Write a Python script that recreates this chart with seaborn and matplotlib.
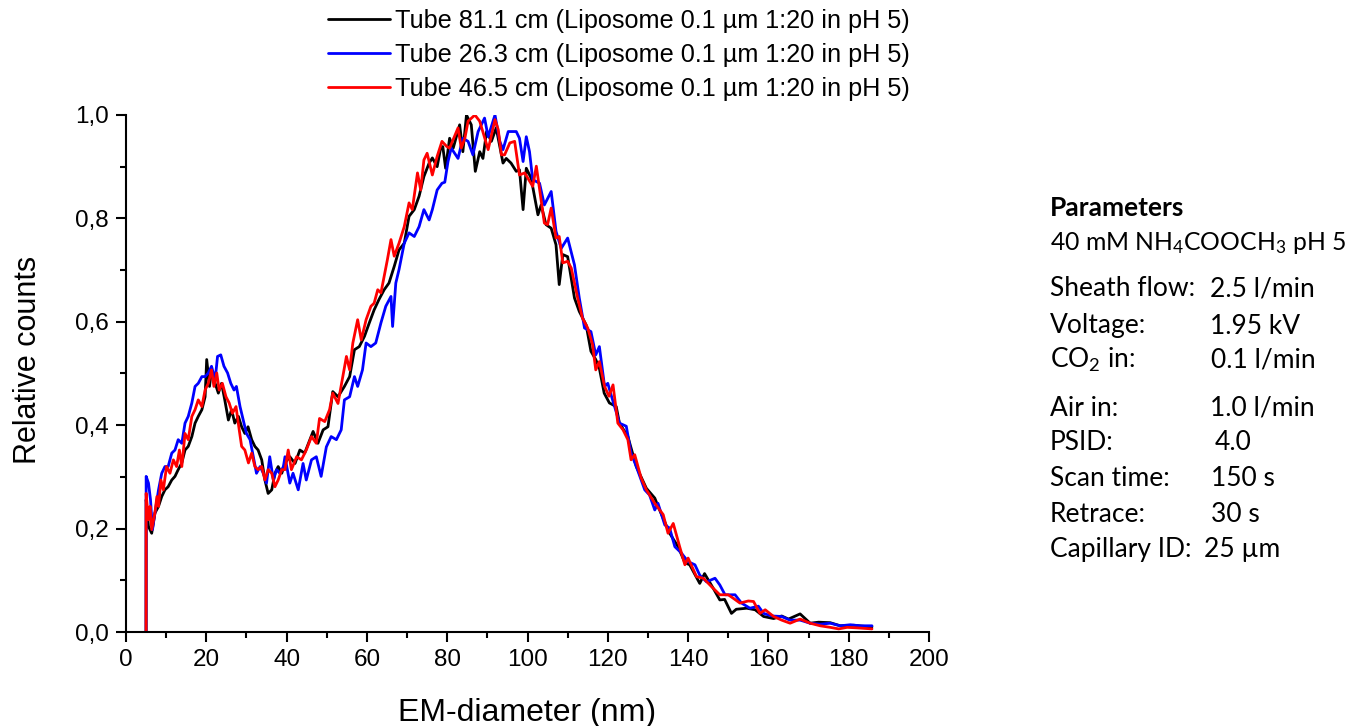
import matplotlib
matplotlib.use("Agg")
import matplotlib.pyplot as plt
from matplotlib.ticker import FixedLocator, FixedFormatter, MultipleLocator
import pandas as pd
import seaborn as sns

# ---- data -------------------------------------------------------------
series_names = [
    "Tube 81.1 cm (Liposome 0.1 µm 1:20 in pH 5)",
    "Tube 26.3 cm (Liposome 0.1 µm 1:20 in pH 5)",
    "Tube 46.5 cm (Liposome 0.1 µm 1:20 in pH 5)",
]
series_colors = ["#000000", "#0000ff", "#ff0000"]

# Tube 81.1 cm
d_81 = [5.0, 5.02, 5.6, 6.4, 7.2, 8.1, 8.9, 9.7, 10.5, 11.4, 12.2, 13.0, 13.9, 14.7,
        15.5, 16.4, 17.2, 18.0, 18.9, 19.7, 20.1, 20.8, 21.3, 22.2, 23.0, 23.8, 24.6,
        25.5, 26.3, 27.1, 28.0, 28.8, 29.6, 30.4, 31.3, 32.1, 32.9, 33.8, 34.6, 35.4,
        36.3, 37.1, 37.9, 38.8, 39.6, 40.8, 42.1, 43.3, 44.5, 46.6, 47.8, 49.1, 50.3,
        51.5, 52.8, 54.4, 55.7, 56.9, 58.1, 59.4, 60.6, 61.8, 63.0, 64.3, 65.5, 66.8,
        68.0, 69.3, 70.5, 71.8, 73.0, 74.2, 75.5, 76.3, 77.5, 78.3, 78.9, 79.6, 80.6,
        81.5, 83.1, 83.9, 84.8, 86.0, 87.0, 88.1, 88.9, 89.8, 91.0, 92.2, 93.9, 94.7,
        95.9, 97.2, 98.0, 98.9, 99.7, 100.9, 102.6, 103.4, 104.6, 105.9, 107.1, 107.9,
        108.8, 110.0, 111.7, 112.9, 114.6, 115.8, 117.0, 117.9, 119.1, 120.4, 122.1,
        122.9, 125.0, 127.1, 129.6, 131.7, 132.9, 135.4, 137.5, 139.2, 140.4, 142.9,
        144.1, 146.3, 147.9, 149.1, 150.8, 152.0, 154.6, 156.7, 158.8, 161.3, 163.3,
        165.0, 167.9, 170.4, 172.5, 175.4, 177.9, 181.3, 183.8, 185.8]
c_81 = [0.0, 0.256, 0.204, 0.191, 0.230, 0.243, 0.262, 0.275, 0.281, 0.294, 0.301, 0.314,
        0.327, 0.352, 0.359, 0.378, 0.404, 0.417, 0.430, 0.455, 0.527, 0.475, 0.507,
        0.481, 0.462, 0.481, 0.449, 0.410, 0.430, 0.404, 0.417, 0.397, 0.384, 0.397,
        0.372, 0.359, 0.352, 0.333, 0.294, 0.268, 0.275, 0.307, 0.320, 0.307, 0.327,
        0.339, 0.326, 0.352, 0.346, 0.388, 0.365, 0.391, 0.397, 0.465, 0.455, 0.475,
        0.494, 0.546, 0.552, 0.572, 0.598, 0.623, 0.643, 0.662, 0.675, 0.707, 0.739,
        0.752, 0.804, 0.817, 0.843, 0.881, 0.907, 0.917, 0.900, 0.933, 0.939, 0.897,
        0.955, 0.936, 0.981, 0.929, 1.000, 0.981, 0.891, 0.929, 0.916, 0.968, 0.949,
        0.975, 0.907, 0.916, 0.907, 0.891, 0.894, 0.817, 0.897, 0.878, 0.807, 0.826,
        0.788, 0.781, 0.749, 0.672, 0.730, 0.726, 0.646, 0.620, 0.594, 0.543, 0.527,
        0.510, 0.462, 0.443, 0.436, 0.404, 0.378, 0.320, 0.278, 0.259, 0.236, 0.191,
        0.165, 0.134, 0.130, 0.094, 0.113, 0.084, 0.062, 0.063, 0.036, 0.044, 0.046,
        0.043, 0.030, 0.026, 0.031, 0.025, 0.035, 0.017, 0.019, 0.018, 0.012, 0.013,
        0.011, 0.010]

# Tube 26.3 cm
d_26 = [5.0, 5.02, 5.6, 6.1, 6.6, 7.2, 8.1, 8.9, 9.7, 10.5, 11.4, 12.2, 13.0, 13.9,
        14.7, 15.5, 16.4, 17.2, 18.0, 18.9, 19.7, 20.5, 21.3, 22.2, 22.8, 23.6, 24.4,
        25.3, 26.1, 26.9, 27.5, 28.4, 29.2, 30.0, 30.9, 31.7, 32.5, 33.4, 34.2, 35.0,
        35.8, 36.7, 37.5, 38.3, 39.2, 39.6, 40.8, 41.6, 42.9, 44.1, 44.9, 46.2, 47.4,
        48.6, 49.9, 51.1, 52.4, 53.6, 54.4, 55.7, 56.9, 57.7, 58.9, 59.8, 61.0, 62.2,
        63.5, 64.7, 66.0, 66.4, 67.2, 68.0, 69.3, 70.5, 71.8, 73.0, 74.2, 75.5, 76.3,
        77.5, 78.7, 79.4, 80.2, 81.0, 82.7, 83.9, 85.2, 86.4, 87.7, 89.3, 90.2, 91.9,
        93.1, 93.9, 95.2, 97.2, 98.0, 98.9, 99.7, 100.5, 101.3, 103.0, 104.2, 105.9,
        107.1, 108.4, 110.0, 111.7, 112.9, 114.2, 115.8, 117.0, 117.9, 119.2, 120.0,
        120.8, 121.7, 122.9, 124.6, 125.8, 127.1, 129.2, 130.4, 131.7, 132.5, 134.2,
        135.4, 136.7, 138.3, 140.0, 141.7, 142.9, 144.6, 146.7, 147.9, 149.2, 151.7,
        153.3, 155.4, 157.5, 158.8, 160.8, 163.3, 165.4, 167.9, 170.4, 172.9, 175.4,
        177.9, 180.4, 182.9, 185.8]
c_26 = [0.0, 0.301, 0.288, 0.256, 0.198, 0.230, 0.275, 0.307, 0.320, 0.320, 0.346, 0.352,
        0.372, 0.365, 0.404, 0.417, 0.443, 0.475, 0.481, 0.494, 0.494, 0.501, 0.514,
        0.488, 0.533, 0.536, 0.514, 0.501, 0.481, 0.468, 0.475, 0.436, 0.410, 0.384,
        0.372, 0.339, 0.307, 0.320, 0.307, 0.288, 0.339, 0.294, 0.314, 0.307, 0.320,
        0.339, 0.288, 0.307, 0.275, 0.326, 0.294, 0.333, 0.339, 0.301, 0.358, 0.378,
        0.372, 0.391, 0.449, 0.455, 0.494, 0.475, 0.507, 0.559, 0.552, 0.559, 0.598,
        0.630, 0.649, 0.591, 0.675, 0.701, 0.752, 0.772, 0.765, 0.784, 0.817, 0.797,
        0.817, 0.855, 0.868, 0.870, 0.910, 0.936, 0.916, 0.955, 0.949, 0.923, 0.968,
        0.994, 0.958, 1.000, 0.949, 0.933, 0.968, 0.968, 0.955, 0.910, 0.958, 0.929,
        0.875, 0.868, 0.826, 0.852, 0.775, 0.742, 0.762, 0.710, 0.646, 0.588, 0.581,
        0.536, 0.552, 0.475, 0.481, 0.459, 0.436, 0.404, 0.398, 0.346, 0.320, 0.275,
        0.265, 0.236, 0.249, 0.207, 0.201, 0.165, 0.153, 0.136, 0.130, 0.110, 0.097,
        0.104, 0.091, 0.072, 0.072, 0.056, 0.046, 0.050, 0.036, 0.031, 0.030, 0.023,
        0.023, 0.017, 0.015, 0.017, 0.012, 0.014, 0.012, 0.012]

# Tube 46.5 cm
d_46 = [5.0, 5.02, 5.56, 6.0, 6.4, 7.2, 7.7, 8.1, 8.7, 9.3, 10.1, 10.95, 11.8, 12.6,
        13.3, 13.9, 14.7, 15.5, 16.4, 17.2, 18.0, 18.9, 19.7, 20.5, 21.3, 21.9, 22.6,
        23.2, 24.0, 24.9, 25.7, 26.5, 27.4, 28.2, 28.8, 29.6, 30.5, 31.3, 32.1, 32.9,
        33.8, 34.6, 35.4, 36.3, 37.1, 37.9, 38.8, 39.6, 40.4, 41.2, 42.5, 43.7, 44.9,
        46.2, 47.4, 48.2, 49.5, 50.7, 51.5, 52.8, 54.0, 54.9, 55.7, 56.5, 57.7, 58.6,
        59.8, 61.0, 61.8, 62.7, 63.5, 64.3, 65.1, 66.0, 66.8, 68.0, 69.3, 70.5, 71.3,
        72.6, 73.4, 74.2, 75.0, 76.3, 77.5, 78.7, 79.9, 80.6, 82.7, 83.5, 84.4, 85.2,
        86.9, 88.1, 90.2, 91.9, 92.7, 93.5, 94.3, 95.6, 96.8, 98.0, 99.3, 101.3, 102.2,
        104.2, 105.0, 105.9, 107.1, 107.9, 108.8, 110.0, 110.9, 112.5, 113.7, 115.0,
        116.2, 117.0, 117.9, 119.2, 120.3, 121.3, 122.5, 123.8, 125.0, 125.8, 126.7,
        128.3, 129.6, 131.7, 133.8, 135.0, 136.3, 137.9, 139.2, 140.0, 142.1, 143.8,
        145.8, 147.9, 150.0, 151.3, 152.9, 155.0, 156.3, 157.9, 159.2, 161.3, 163.3,
        165.4, 167.9, 170.4, 172.9, 175.4, 177.5, 179.6, 182.1, 185.8]
c_46 = [0.0, 0.268, 0.217, 0.243, 0.198, 0.230, 0.262, 0.243, 0.294, 0.275, 0.320, 0.307,
        0.333, 0.320, 0.352, 0.320, 0.384, 0.372, 0.417, 0.430, 0.449, 0.436, 0.468,
        0.481, 0.507, 0.475, 0.501, 0.468, 0.481, 0.455, 0.443, 0.423, 0.436, 0.391,
        0.359, 0.352, 0.327, 0.346, 0.320, 0.314, 0.320, 0.294, 0.314, 0.307, 0.281,
        0.294, 0.314, 0.314, 0.352, 0.314, 0.339, 0.333, 0.352, 0.378, 0.365, 0.413,
        0.407, 0.430, 0.462, 0.442, 0.494, 0.533, 0.507, 0.559, 0.604, 0.565, 0.604,
        0.630, 0.636, 0.662, 0.656, 0.688, 0.720, 0.759, 0.727, 0.752, 0.784, 0.830,
        0.817, 0.888, 0.855, 0.913, 0.926, 0.884, 0.920, 0.949, 0.939, 0.936, 0.975,
        0.936, 0.955, 0.988, 1.000, 0.988, 0.933, 0.991, 0.972, 0.923, 0.923, 0.946,
        0.949, 0.884, 0.888, 0.862, 0.901, 0.791, 0.788, 0.820, 0.762, 0.765, 0.714,
        0.717, 0.704, 0.646, 0.607, 0.588, 0.556, 0.507, 0.523, 0.475, 0.456, 0.478,
        0.404, 0.391, 0.372, 0.333, 0.343, 0.298, 0.275, 0.249, 0.227, 0.191, 0.210,
        0.165, 0.130, 0.143, 0.107, 0.104, 0.088, 0.072, 0.072, 0.065, 0.056, 0.060,
        0.059, 0.036, 0.043, 0.030, 0.023, 0.017, 0.025, 0.017, 0.012, 0.009, 0.006,
        0.009, 0.008, 0.006]

x_ticks = [0, 20, 40, 60, 80, 100, 120, 140, 160, 180, 200]
y_ticks = [0.0, 0.2, 0.4, 0.6, 0.8, 1.0]
y_tick_labels = ["0,0", "0,2", "0,4", "0,6", "0,8", "1,0"]

param_rows = [
    ("Sheath flow:", "2.5 l/min"),
    ("Voltage:", "1.95 kV"),
    ("CO$_2$ in:", "0.1 l/min"),
    ("Air in:", "1.0 l/min"),
    ("PSID:", "4.0"),
    ("Scan time:", "150 s"),
    ("Retrace:", "30 s"),
    ("Capillary ID:", "25 µm"),
]

# ---- long-form table ----------------------------------------------------
frames = []
for name, d, c in zip(series_names, [d_81, d_26, d_46], [c_81, c_26, c_46]):
    frames.append(pd.DataFrame({"diameter": d, "counts": c, "series": name}))
df = pd.concat(frames, ignore_index=True)

# ---- style --------------------------------------------------------------
sns.set_style("ticks")
plt.rcParams["font.family"] = ["Liberation Sans", "DejaVu Sans"]
plt.rcParams["text.color"] = "black"
plt.rcParams["axes.labelcolor"] = "black"
plt.rcParams["mathtext.fontset"] = "custom"
plt.rcParams["mathtext.rm"] = "Lato"
plt.rcParams["mathtext.it"] = "Lato"
plt.rcParams["mathtext.bf"] = "Lato:bold"

W, H = 1360, 726
fig = plt.figure(figsize=(W / 100, H / 100), dpi=100)
ax = fig.add_axes([126 / W, 1 - 632 / H, (929 - 126) / W, (632 - 115) / H])

sns.lineplot(data=df, x="diameter", y="counts", hue="series",
             hue_order=series_names, palette=series_colors,
             estimator=None, sort=False, linewidth=2.0, ax=ax, legend=False)

ax.set_xlim(0, 200)
ax.set_ylim(0, 1.0)
ax.xaxis.set_major_locator(FixedLocator(x_ticks))
ax.xaxis.set_minor_locator(MultipleLocator(10))
ax.yaxis.set_major_locator(FixedLocator(y_ticks))
ax.yaxis.set_major_formatter(FixedFormatter(y_tick_labels))
ax.yaxis.set_minor_locator(MultipleLocator(0.1))

for side in ("top", "right"):
    ax.spines[side].set_visible(False)
for side in ("left", "bottom"):
    ax.spines[side].set_linewidth(1.5)
    ax.spines[side].set_color("black")

ax.tick_params(which="major", direction="out", length=7.5, width=1.5,
               labelsize=17.5, pad=5, colors="black", labelcolor="black")
ax.tick_params(which="minor", direction="out", length=4, width=1.5, colors="black")

ax.set_xlabel("EM-diameter (nm)", fontsize=23)
ax.set_ylabel("Relative counts", fontsize=22)
ax.xaxis.set_label_coords(0.5, -0.128)
ax.yaxis.set_label_coords(-0.103, 0.526)

# legend above the plot area
handles = [plt.Line2D([], [], color=c, linewidth=2.0) for c in series_colors]
fig.legend(handles, series_names, loc="upper left",
           bbox_to_anchor=(328 / W, 1 - 9 / H), frameon=False,
           fontsize=18.2, handlelength=2.45, handletextpad=0.2,
           labelspacing=0.40, borderpad=0, borderaxespad=0, labelcolor="black")

# parameter block on the right
pfont = dict(family=["Lato", "DejaVu Sans"], fontsize=19, color="black", va="center")
fig.text(1050 / W, 1 - 208 / H, "Parameters", fontweight="bold", **pfont)
fig.text(1050 / W, 1 - 243 / H, "40 mM NH$_4$COOCH$_3$ pH 5",
         **{**pfont, "fontsize": 17.8})
row_y = [289, 326, 360, 408, 443, 478, 514, 550]
value_x = [1210, 1210, 1211, 1210, 1215, 1211, 1211, 1204]
for (lab, val), yy, vx in zip(param_rows, row_y, value_x):
    fig.text(1050 / W, 1 - yy / H, lab, **pfont)
    fig.text(vx / W, 1 - yy / H, val, **pfont)

fig.savefig("out.png", dpi=100, facecolor="white")
